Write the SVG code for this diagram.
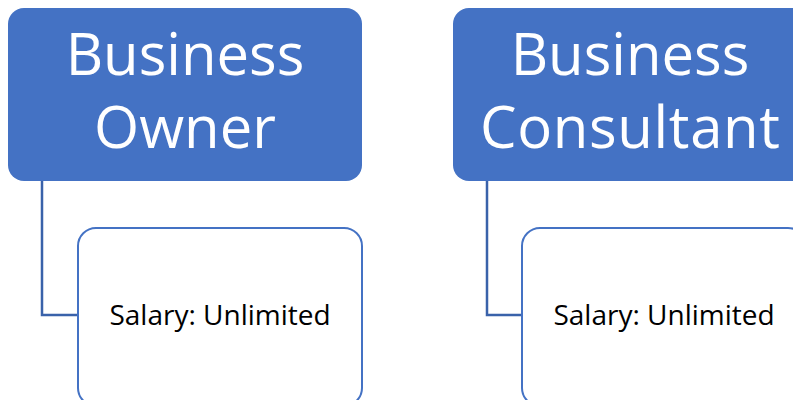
<svg xmlns="http://www.w3.org/2000/svg" width="793" height="400" viewBox="0 0 793 400">
<style>
.head{fill:#4472C4;}
.child{fill:#FFFFFF;stroke:#4472C4;stroke-width:2;}
.conn{fill:none;stroke:#3A62AA;stroke-width:2.5;}
.ht{font-family:"Open Sans","Noto Sans",sans-serif;font-size:58px;fill:#FFFFFF;text-anchor:middle;}
.ct{font-family:"Open Sans","Noto Sans",sans-serif;font-size:28px;fill:#000000;text-anchor:middle;}
</style>
<rect width="793" height="400" fill="#FFFFFF"/>
<g id="connectors">
<path class="conn" d="M42,181 V315 H78"/>
<path class="conn" d="M487,181 V315 H522"/>
</g>
<g id="owner">
<rect class="head" x="8" y="8" width="354" height="173" rx="16"/>
<text class="ht" x="185" y="75">Business</text>
<text class="ht" x="185" y="148">Owner</text>
</g>
<g id="owner-salary">
<rect class="child" x="78" y="228" width="284" height="178" rx="18"/>
<text class="ct" x="220" y="325">Salary: Unlimited</text>
</g>
<g id="consultant">
<rect class="head" x="453" y="8" width="354" height="173" rx="16"/>
<text class="ht" x="630" y="75">Business</text>
<text class="ht" x="630" y="148" textLength="300" lengthAdjust="spacing">Consultant</text>
</g>
<g id="consultant-salary">
<rect class="child" x="522" y="228" width="284" height="178" rx="18"/>
<text class="ct" x="664" y="325">Salary: Unlimited</text>
</g>
</svg>
